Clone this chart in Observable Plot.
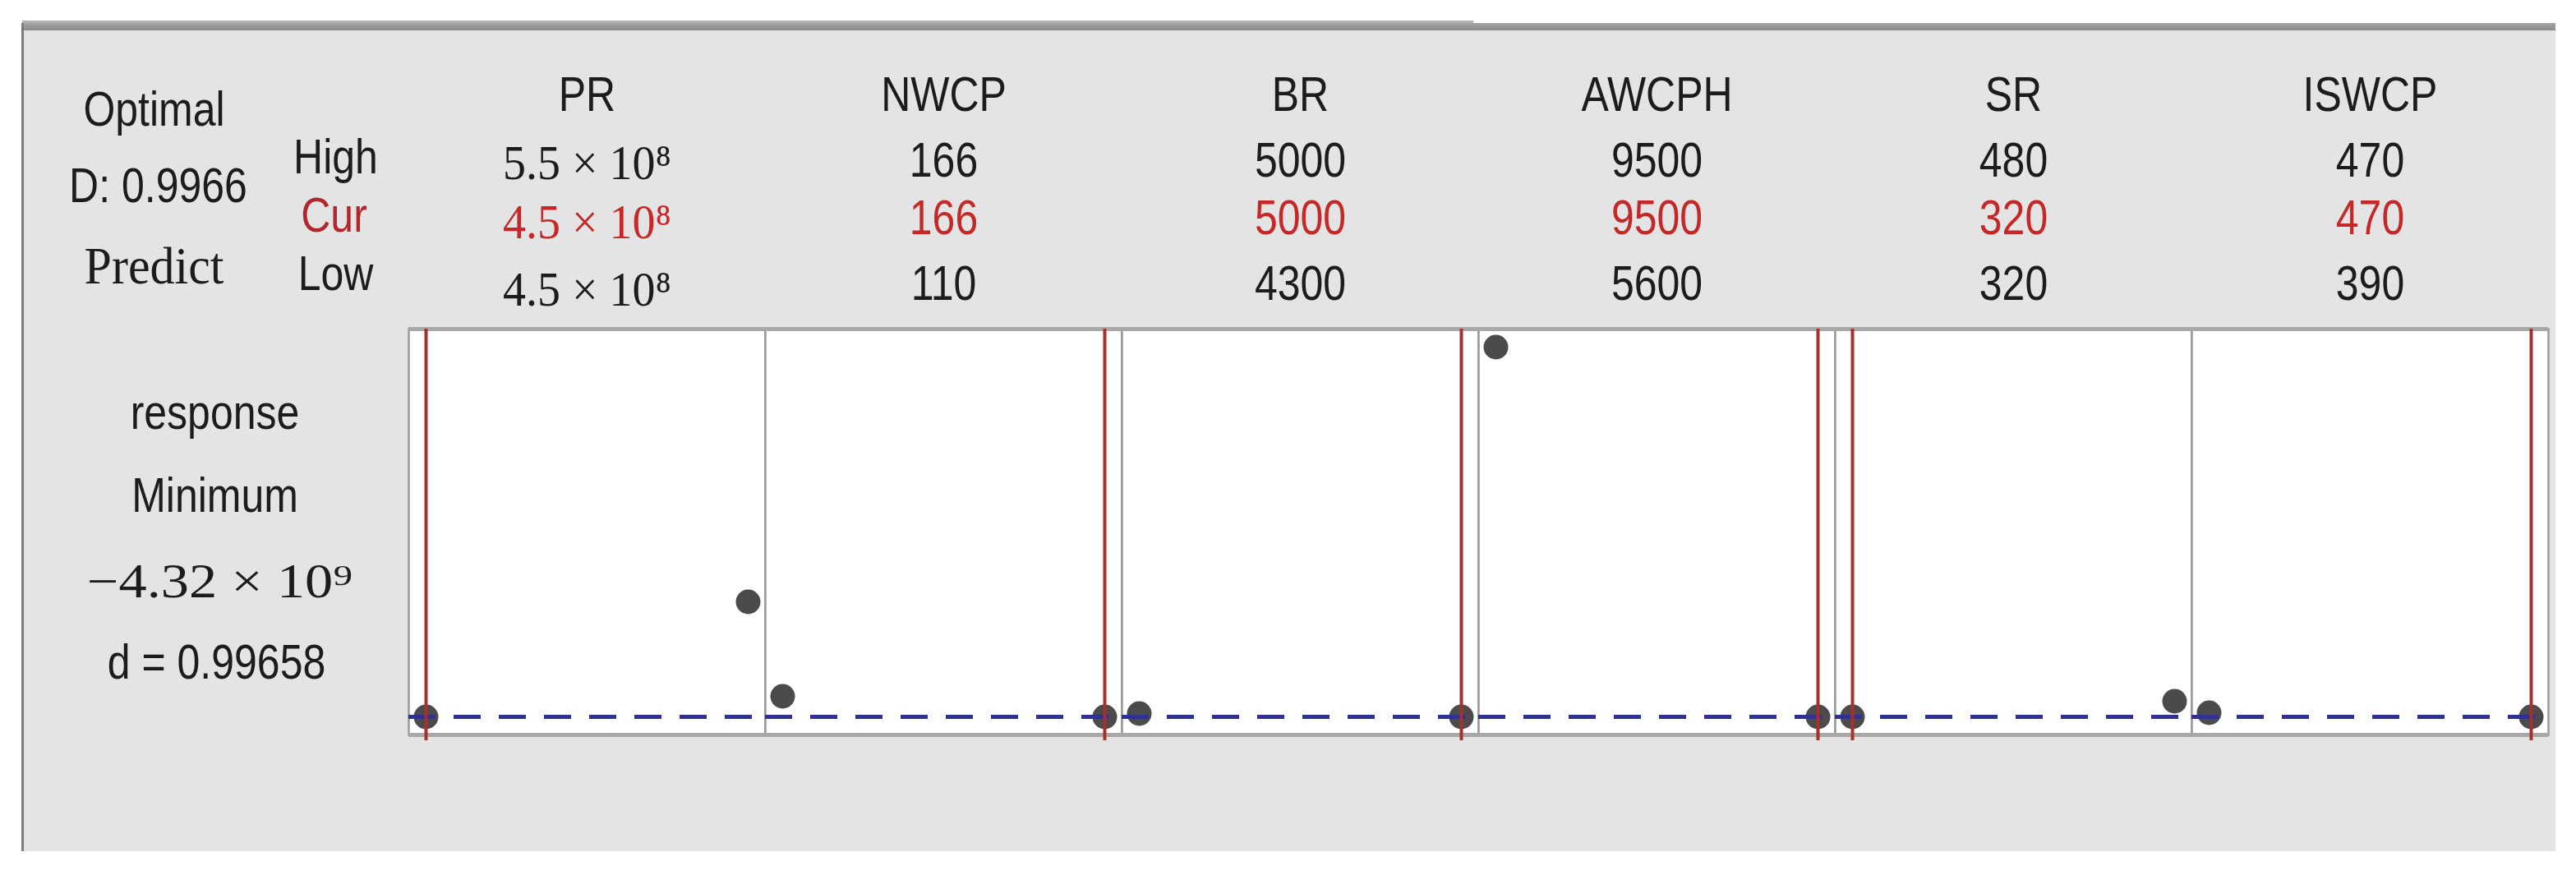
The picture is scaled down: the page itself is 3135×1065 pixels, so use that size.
<!DOCTYPE html>
<html>
<head>
<meta charset="utf-8">
<script src="https://cdn.jsdelivr.net/npm/d3@7"></script>
<script src="https://cdn.jsdelivr.net/npm/@observablehq/plot@0.6"></script>
<style>
  html, body { margin: 0; padding: 0; background: #fff; overflow: hidden; }
  #wrap { position: relative; width: 3135px; height: 1065px; background: #fff; }
  #panel { position: absolute; left: 27px; top: 28px; width: 3083px; height: 1008px; background: #e4e4e4; }
  #topbar2 { position: absolute; left: 27px; top: 25px; width: 1766px; height: 5px; background: #b0b0b0; }
  #topbar { position: absolute; left: 27px; top: 28px; width: 3083px; height: 9px; background: linear-gradient(#a6a6a6, #8a8a8a); }
  #leftbar { position: absolute; left: 26px; top: 28px; width: 3px; height: 1008px; background: #7d7d7d; }
  #chart { position: absolute; left: 0; top: 0; }
</style>
</head>
<body>
<div id="wrap">
  <div id="panel"></div>
  <div id="topbar2"></div>
  <div id="topbar"></div>
  <div id="leftbar"></div>
  <div id="chart"></div>
</div>
<script>
// ---------- data ----------
const factors      = ["PR", "NWCP", "BR", "AWCPH", "SR", "ISWCP"];
const highLabels   = ["5.5 × 10⁸", "166", "5000", "9500", "480", "470"];
const curLabels    = ["4.5 × 10⁸", "166", "5000", "9500", "320", "470"];
const lowLabels    = ["4.5 × 10⁸", "110", "4300", "5600", "320", "390"];
const highValues   = [5.5e8, 166, 5000, 9500, 480, 470];
const curValues    = [4.5e8, 166, 5000, 9500, 320, 470];
const lowValues    = [4.5e8, 110, 4300, 5600, 320, 390];
// predicted response (×10^9) at each factor's Low and High setting (other factors at Cur)
const responseAtLow  = [-4.32, -4.07, -4.28, 0.18, -4.32, -4.27];
const responseAtHigh = [-2.92, -4.32, -4.32, -4.32, -4.13, -4.32];
const responseRange  = [-4.54, 0.40];
const predicted      = -4.32;
const optimalLabels  = ["Optimal", "D: 0.9966", "Predict"];
const rowLabels      = ["High", "Cur", "Low"];
const responseLabels = ["response", "Minimum", "−4.32 × 10⁹", "d = 0.99658"];

// ---------- derived tables ----------
const norm = (i, v) => (v - lowValues[i]) / (highValues[i] - lowValues[i]);
const factorRows = factors.map((factor, i) => ({
  factor, high: highLabels[i], cur: curLabels[i], low: lowLabels[i],
  sci: highLabels[i].includes("×")
}));
const points = factors.flatMap((factor, i) => [
  {factor, x: norm(i, lowValues[i]), y: responseAtLow[i]},
  {factor, x: norm(i, highValues[i]), y: responseAtHigh[i]}
]);
const current = factors.map((factor, i) => ({factor, x: norm(i, curValues[i])}));

// ---------- styles ----------
const SANS = "'Liberation Sans', Arial, sans-serif";
const SERIF = "'Liberation Serif', serif";
const SERIF_WIDE = "'Liberation Serif', 'Times New Roman', serif";
const INK = "#1c1c1c";
const RED = "#c62828";
const FS = 50;

const first = factors[0];
function label(text, dx, dy, o = {}) {
  return Plot.text([{factor: first, text}], {
    fx: "factor", text: "text", frameAnchor: "top-left",
    textAnchor: "middle", lineAnchor: "middle",
    dx, dy, fontSize: FS, fontFamily: SANS, fill: INK, ...o
  });
}
function row(field, dySans, dySci, color) {
  return [
    Plot.text(factorRows, {filter: d => !d.sci, fx: "factor", text: field, frameAnchor: "top",
      lineAnchor: "middle", dy: dySans, fontSize: FS, fontFamily: SANS, fill: color}),
    Plot.text(factorRows, {filter: d => d.sci, fx: "factor", text: field, frameAnchor: "top",
      lineAnchor: "middle", dy: dySci, fontSize: 56, fontFamily: SERIF, fill: color})
  ];
}

const svg = Plot.plot({
  width: 3135,
  height: 1065,
  marginLeft: 496,
  marginRight: 33,
  marginTop: 400,
  marginBottom: 171,
  style: {background: "transparent", overflow: "visible"},
  fx: {domain: factors, padding: 0, axis: null, label: null},
  x: {domain: [0, 1], inset: 21, axis: null},
  y: {domain: responseRange, axis: null},
  marks: [
    Plot.frame({fill: "white", stroke: "#9a9a9a", strokeWidth: 2.5}),
    Plot.ruleY(responseRange, {stroke: "#a8a8a8", strokeWidth: 5}),
    Plot.dot(points, {fx: "factor", x: "x", y: "y", r: 15, fill: "#4b4b4b"}),
    Plot.ruleY([predicted], {stroke: "#30308f", strokeWidth: 5, strokeDasharray: "33,22"}),
    Plot.ruleX(current, {fx: "factor", x: "x", stroke: "#a8302c", strokeWidth: 4, insetBottom: -7}),
    // column headers
    Plot.text(factorRows, {fx: "factor", text: "factor", frameAnchor: "top", lineAnchor: "middle",
      dy: -285, fontSize: FS, fontFamily: SANS, fill: INK}),
    ...row("high", -205, -201, INK),
    ...row("cur", -135, -129, RED),
    ...row("low", -55, -47, INK),
    // left block
    label(optimalLabels[0], -310, -267),
    label(optimalLabels[1], -305, -174),
    label(optimalLabels[2], -310, -76, {fontFamily: SERIF, fontSize: 60}),
    label(rowLabels[0], -89, -209),
    label(rowLabels[1], -91, -138, {fill: "#b3262b"}),
    label(rowLabels[2], -89, -67),
    label(responseLabels[0], -236, 102),
    label(responseLabels[1], -236, 203),
    label(responseLabels[2], -230, 308, {fontFamily: SERIF_WIDE, fontSize: 57}),
    label(responseLabels[3], -234, 406)
  ]
});

// reproduce the stretched lettering of the original screenshot
function stretch(family, sx, sy) {
  svg.querySelectorAll("g").forEach(g => {
    if (g.getAttribute("font-family") === family) {
      g.querySelectorAll("text").forEach(t => {
        t.setAttribute("transform", (t.getAttribute("transform") || "") + ` scale(${sx},${sy})`);
      });
    }
  });
}
stretch(SANS, 1, 1.2);
stretch(SERIF, 1, 1.05);
stretch(SERIF_WIDE, 1.2, 1.02);

document.getElementById("chart").appendChild(svg);
</script>
</body>
</html>
